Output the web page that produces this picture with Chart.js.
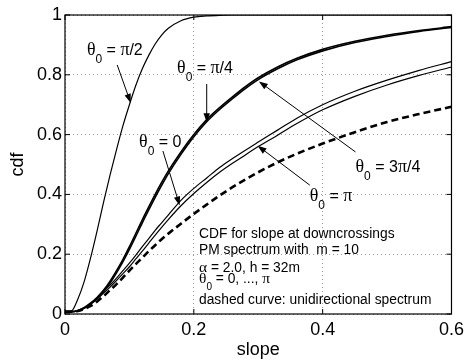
<!DOCTYPE html>
<html>
<head>
<meta charset="utf-8">
<script src="https://cdn.jsdelivr.net/npm/chart.js@4.4.1/dist/chart.umd.min.js"></script>
<style>
  html, body { margin: 0; padding: 0; background: #fff; }
  #wrap { width: 469px; height: 359px; }
</style>
</head>
<body>
<div id="wrap"><canvas id="cdfChart" width="469" height="359"></canvas></div>
<script>
// slope (x) values shared by every curve
const slope = [0, 0.01, 0.02, 0.03, 0.04, 0.05, 0.06, 0.07, 0.08, 0.09, 0.10, 0.11, 0.12, 0.13, 0.14, 0.15,
               0.16, 0.18, 0.20, 0.22, 0.24, 0.26, 0.28, 0.30, 0.33, 0.36, 0.40, 0.45, 0.50, 0.55, 0.60];

// cdf, one array per theta_0
const cdfHalfPi = [0.008, 0.01, 0.05, 0.11, 0.19, 0.28, 0.375, 0.465, 0.55, 0.63, 0.70, 0.765, 0.82, 0.865, 0.903, 0.933,
                   0.955, 0.981, 0.993, 0.997, 0.999, 1, 1, 1, 1, 1, 1, 1, 1, 1, 1];
const cdfQuarterPi = [0.008, 0.008, 0.012, 0.022, 0.037, 0.056, 0.08, 0.11, 0.145, 0.183, 0.225, 0.27, 0.315, 0.358, 0.40, 0.44,
                      0.477, 0.542, 0.60, 0.65, 0.69, 0.726, 0.76, 0.79, 0.826, 0.855, 0.885, 0.912, 0.932, 0.948, 0.961];
const cdfThreeQuarterPi = [0.008, 0.008, 0.011, 0.02, 0.034, 0.052, 0.075, 0.104, 0.138, 0.175, 0.216, 0.26, 0.305, 0.348, 0.39, 0.43,
                           0.468, 0.534, 0.593, 0.643, 0.684, 0.72, 0.754, 0.784, 0.82, 0.85, 0.88, 0.908, 0.928, 0.945, 0.958];
const cdfZero = [0.008, 0.008, 0.01, 0.02, 0.035, 0.053, 0.075, 0.097, 0.12, 0.145, 0.17, 0.197, 0.225, 0.252, 0.28, 0.305,
                 0.33, 0.38, 0.42, 0.455, 0.49, 0.52, 0.548, 0.575, 0.615, 0.655, 0.70, 0.745, 0.782, 0.815, 0.844];
const cdfPi = [0.008, 0.008, 0.01, 0.019, 0.033, 0.05, 0.07, 0.09, 0.112, 0.135, 0.158, 0.184, 0.21, 0.237, 0.264, 0.29,
               0.315, 0.362, 0.403, 0.44, 0.474, 0.504, 0.532, 0.56, 0.598, 0.637, 0.683, 0.728, 0.766, 0.798, 0.826];
const cdfUnidirectional = [0.008, 0.008, 0.01, 0.017, 0.027, 0.042, 0.06, 0.08, 0.10, 0.122, 0.145, 0.167, 0.188, 0.21, 0.23, 0.25,
                           0.268, 0.302, 0.335, 0.366, 0.396, 0.424, 0.45, 0.474, 0.507, 0.536, 0.57, 0.608, 0.642, 0.669, 0.693];

const xTicks = [0, 0.2, 0.4, 0.6];
const yTicks = [0, 0.2, 0.4, 0.6, 0.8, 1];

const infoLines = [
  [['CDF for slope at downcrossings', 's']],
  [['PM spectrum with  m = 10', 's']],
  [['α', 'g'], [' = 2.0, h = 32m', 's']],
  [['θ', 'g'], ['0', 'sub'], [' = 0, ..., ', 's'], ['π', 'g']],
  [['dashed curve: unidirectional spectrum', 's']]
];

const FONT = '"Liberation Sans", Arial, Helvetica, sans-serif';
const GREEK = '"Liberation Serif", "Times New Roman", serif';

function pts(ys) {
  return slope.map((x, i) => ({ x: x, y: ys[i] }));
}

function curve(label, ys, width, dash) {
  return {
    label: label,
    data: pts(ys),
    borderColor: '#000',
    borderWidth: width,
    borderDash: dash || [],
    pointRadius: 0,
    showLine: true,
    fill: false,
    cubicInterpolationMode: 'monotone'
  };
}

function richText(ctx, x, y, parts, size) {
  ctx.textBaseline = 'alphabetic';
  ctx.textAlign = 'left';
  ctx.fillStyle = '#000';
  for (const [t, kind] of parts) {
    let f = size, dy = 0, fam = FONT;
    if (kind === 'g') { fam = GREEK; f = size * 1.12; }
    if (kind === 'sub') { f = Math.round(size * 0.72); dy = size * 0.48; }
    ctx.font = f + 'px ' + fam;
    ctx.fillText(t, x, y + dy);
    x += ctx.measureText(t).width;
  }
}

function arrow(ctx, x1, y1, x2, y2) {
  const a = Math.atan2(y2 - y1, x2 - x1);
  const len = 9, half = 3.2;
  ctx.strokeStyle = '#000';
  ctx.lineWidth = 1;
  ctx.beginPath();
  ctx.moveTo(x1, y1);
  ctx.lineTo(x2 - Math.cos(a) * len * 0.6, y2 - Math.sin(a) * len * 0.6);
  ctx.stroke();
  ctx.fillStyle = '#000';
  ctx.beginPath();
  ctx.moveTo(x2, y2);
  ctx.lineTo(x2 - Math.cos(a) * len - Math.sin(a) * half, y2 - Math.sin(a) * len + Math.cos(a) * half);
  ctx.lineTo(x2 - Math.cos(a) * len + Math.sin(a) * half, y2 - Math.sin(a) * len - Math.cos(a) * half);
  ctx.closePath();
  ctx.fill();
}

// curve labels: text anchor and arrow (tail -> tip) in data units
const labelNotes = [
  { parts: [['θ', 'g'], ['0', 'sub'], [' = ', 's'], ['π', 'g'], ['/2', 's']], at: [0.034, 0.866], tail: [0.081, 0.833], tip: [0.102, 0.706] },
  { parts: [['θ', 'g'], ['0', 'sub'], [' = ', 's'], ['π', 'g'], ['/4', 's']], at: [0.174, 0.806], tail: [0.220, 0.769], tip: [0.220, 0.641] },
  { parts: [['θ', 'g'], ['0', 'sub'], [' = 0', 's']], at: [0.115, 0.559], tail: [0.152, 0.545], tip: [0.178, 0.363] },
  { parts: [['θ', 'g'], ['0', 'sub'], [' = 3', 's'], ['π', 'g'], ['/4', 's']], at: [0.451, 0.475], tail: [0.451, 0.542], tip: [0.301, 0.778] },
  { parts: [['θ', 'g'], ['0', 'sub'], [' = ', 's'], ['π', 'g']], at: [0.380, 0.378], tail: [0.380, 0.431], tip: [0.299, 0.563] }
];

const notesPlugin = {
  id: 'notes',
  afterDatasetsDraw(chart) {
    const ctx = chart.ctx, xs = chart.scales.x, ys = chart.scales.y;
    const px = v => xs.getPixelForValue(v), py = v => ys.getPixelForValue(v);
    ctx.save();
    labelNotes.forEach(n => {
      arrow(ctx, px(n.tail[0]), py(n.tail[1]), px(n.tip[0]), py(n.tip[1]));
      richText(ctx, px(n.at[0]), py(n.at[1]), n.parts, 16);
    });
    // info block
    const baselines = [238, 254, 272, 283, 304];
    infoLines.forEach((parts, i) => richText(ctx, 199, baselines[i], parts, 13.8));
    ctx.restore();
  },
  afterDraw(chart) {
    const ctx = chart.ctx, a = chart.chartArea, xs = chart.scales.x, ys = chart.scales.y;
    ctx.save();
    ctx.strokeStyle = '#000';
    ctx.lineWidth = 1.2;
    ctx.strokeRect(a.left, a.top, a.right - a.left, a.bottom - a.top);
    ctx.lineWidth = 1;
    ctx.beginPath();
    xTicks.forEach(v => {
      const x = xs.getPixelForValue(v);
      ctx.moveTo(x, a.bottom); ctx.lineTo(x, a.bottom - 5);
      ctx.moveTo(x, a.top); ctx.lineTo(x, a.top + 5);
    });
    yTicks.forEach(v => {
      const y = ys.getPixelForValue(v);
      ctx.moveTo(a.left, y); ctx.lineTo(a.left + 5, y);
      ctx.moveTo(a.right, y); ctx.lineTo(a.right - 5, y);
    });
    ctx.stroke();
    ctx.restore();
  }
};

const tickFont = { family: FONT, size: 18 };

new Chart(document.getElementById('cdfChart'), {
  type: 'scatter',
  data: {
    datasets: [
      curve('θ0 = π/2', cdfHalfPi, 1.2),
      curve('θ0 = π/4', cdfQuarterPi, 1.6),
      curve('θ0 = 3π/4', cdfThreeQuarterPi, 1.6),
      curve('θ0 = 0', cdfZero, 1.2),
      curve('θ0 = π', cdfPi, 1.2),
      curve('unidirectional', cdfUnidirectional, 2.6, [7, 4])
    ]
  },
  options: {
    responsive: false,
    animation: false,
    devicePixelRatio: 1,
    layout: { padding: { left: 0, right: 17, top: 15, bottom: 0 } },
    plugins: { legend: { display: false }, tooltip: { enabled: false } },
    scales: {
      x: {
        type: 'linear', min: 0, max: 0.6,
        afterBuildTicks: s => { s.ticks = xTicks.map(v => ({ value: v })); },
        afterFit: s => { s.height = 45; },
        ticks: { color: '#000', font: tickFont, padding: 5, maxRotation: 0, callback: v => String(+v.toFixed(1)) },
        grid: { color: '#999', lineWidth: 1, drawTicks: false },
        border: { display: false, dash: [1, 3] },
        title: { display: true, text: 'slope', color: '#000', font: { family: FONT, size: 18, lineHeight: 1 }, padding: { top: 0, bottom: 0 } }
      },
      y: {
        type: 'linear', min: 0, max: 1,
        afterBuildTicks: s => { s.ticks = yTicks.map(v => ({ value: v })); },
        afterFit: s => { s.width = 65; },
        ticks: { color: '#000', font: tickFont, padding: 3, callback: v => String(+v.toFixed(1)) },
        grid: { color: '#999', lineWidth: 1, drawTicks: false },
        border: { display: false, dash: [1, 3] },
        title: { display: true, text: 'cdf', color: '#000', font: { family: FONT, size: 18, lineHeight: 1 }, padding: { top: 9, bottom: 0 } }
      }
    }
  },
  plugins: [notesPlugin]
});
</script>
</body>
</html>
